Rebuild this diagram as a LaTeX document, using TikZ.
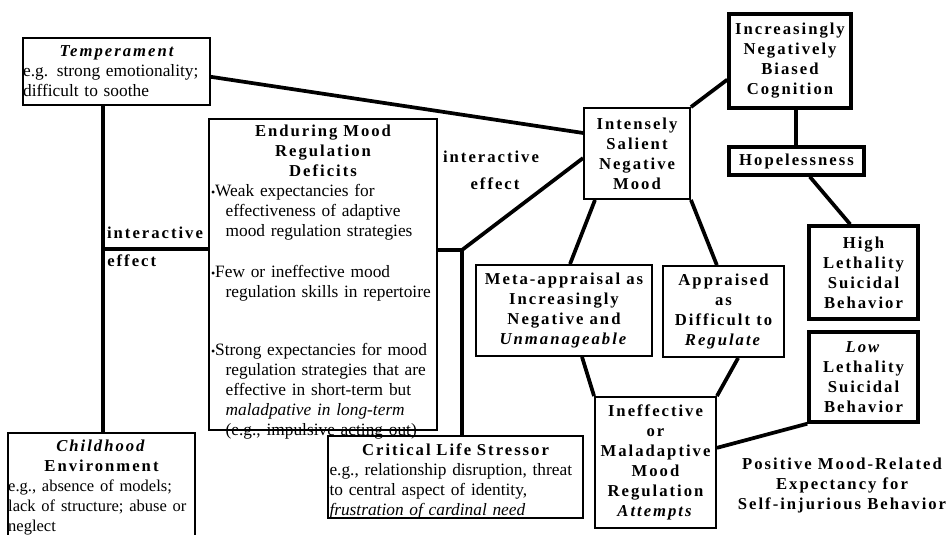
\documentclass[tikz,border=0pt]{standalone}
\usepackage{fontspec}
\setmainfont{Liberation Serif}
\newfontfamily\spacedfont[LetterSpace=12]{Liberation Serif}
\newcommand\hd{\spacedfont\bfseries\fontsize{12.5}{15}\selectfont}
\newcommand\bodytxt{\fontsize{13}{15}\selectfont}
\newcommand\ind{\hspace*{11pt}}
\newcommand\bul{{\small\textbullet}}
\tikzset{
    box/.style={draw, line width=1.4pt, inner sep=0pt, font=\bodytxt, align=left},
    titlebox/.style={draw, line width=1.4pt, inner sep=0pt, align=center, font=\hd},
    size/.style 2 args={minimum width=#1pt, minimum height=#2pt},
    textdrop/.style={text height=10pt, text depth=#1pt},
    boldframe/.style={line width=2.6pt},
    link/.style={line width=2.8pt},
    tag/.style={font=\hd, inner sep=0pt},
}

\begin{document}
\begin{tikzpicture}[x=0.75pt, y=-0.75pt]
    \useasboundingbox (0,0) rectangle (949,535);

    % left column
    \node[box, size={140.25}{50.25}, text width=140pt, textdrop=32.5] (temp) at (116.5,71.5)
        {\centering{\hd\itshape Temperament\par}\raggedright
        e.g. strong emotionality;\\difficult to soothe};
    \node[box, size={140.25}{77.25}, text width=140pt, textdrop=60.25] (child) at (101.5,484.5)
        {\centering{\hd\textit{Childhood}\\Environment\par}\raggedright\fontsize{12.4}{15}\selectfont
        e.g., absence of models;\\lack of structure; abuse or\\neglect};
    \node[box, size={171}{233.25}, text width=168pt, textdrop=217] (endur) at (323,274.5)
        {\centering{\hd Enduring Mood\\Regulation\\Deficits\par}\raggedright
        \bul Weak expectancies for\\\ind effectiveness of adaptive\\\ind mood regulation strategies\\[16pt]
        \bul Few or ineffective mood\\\ind regulation skills in repertoire\\[28pt]
        \bul Strong expectancies for mood\\\ind regulation strategies that are\\\ind effective in short-term but\\\ind
        \textit{maladpative in long-term}\\\ind (e.g., impulsive acting out)};
    \node[box, size={191.25}{61.5}, text width=189pt, textdrop=42.25] (crit) at (455.5,477)
        {\centering{\hd Critical Life Stressor\par}\raggedright
        e.g., relationship disruption, threat\\to central aspect of identity,\\
        \textit{frustration of cardinal need}};

    % right part
    \node[titlebox, size={79.5}{68.25}] (mood) at (637,153.5)
        {Intensely\\Salient\\Negative\\Mood};
    \node[titlebox, boldframe, size={91.5}{70.5}] (cog) at (790,61)
        {Increasingly\\Negatively\\Biased\\Cognition};
    \node[titlebox, boldframe, size={101.25}{21}] (hope) at (796.5,161) {Hopelessness};
    \node[titlebox, boldframe, size={81.75}{69.75}] (high) at (863.5,272.5)
        {High\\Lethality\\Suicidal\\Behavior};
    \node[titlebox, boldframe, size={81.75}{67.5}] (low) at (863.5,377)
        {\textit{Low}\\Lethality\\Suicidal\\Behavior};
    \node[titlebox, size={132}{68.25}] (meta) at (564,310.5)
        {Meta-appraisal as\\Increasingly\\Negative and\\\textit{Unmanageable}};
    \node[titlebox, size={90.75}{68.25}] (appr) at (723.5,311.5)
        {Appraised\\as\\Difficult to\\\textit{Regulate}};
    \node[titlebox, size={90.75}{98.25}] (ineff) at (655.5,462.5)
        {Ineffective\\or\\Maladaptive\\Mood\\Regulation\\\textit{Attempts}};
    \node[tag, align=center] (expect) at (842,485)
        {Positive Mood-Related\\Expectancy for\\Self-injurious Behavior};

    \node[tag] (ileft) at (155,233) {interactive};
    \node[tag, anchor=west] (eleft) at (107,261) {effect};
    \node[tag] (itop) at (491,157) {interactive};
    \node[tag] (etop) at (495,184) {effect};

    % connectors
    \coordinate (ljoin) at (103,249);
    \coordinate (mjoin) at (462,250);
    \draw[link] ([yshift=-4pt]temp.east) -- ([yshift=15.4pt]mood.west);
    \draw[link] ([xshift=-10pt]temp.south) coordinate (tdrop) -- (tdrop |- child.north);
    \draw[link] (ljoin) -- (ljoin -| endur.west);
    \draw[link] (endur.east |- mjoin) -- (mjoin) -- ([yshift=-3.4pt]mood.west);
    \draw[link] (mjoin) -- (mjoin |- crit.north);
    \draw[link] (mood.north east) -- ([yshift=-14pt]cog.west);
    \draw[link] ([xshift=4.5pt]cog.south) coordinate (cdrop) -- (cdrop |- hope.north);
    \draw[link] ([xshift=10pt]hope.south) -- ([xshift=-10pt]high.north);
    \draw[link] ([xshift=-31.5pt]mood.south) -- ([xshift=4.5pt]meta.north);
    \draw[link] (mood.south east) -- ([xshift=-5pt]appr.north);
    \draw[link] ([xshift=13.5pt]meta.south) -- (ineff.north west);
    \draw[link] ([xshift=11pt]appr.south) -- (ineff.north east);
    \draw[link] ([yshift=11pt]ineff.east) -- (low.south west);
\end{tikzpicture}
\end{document}
